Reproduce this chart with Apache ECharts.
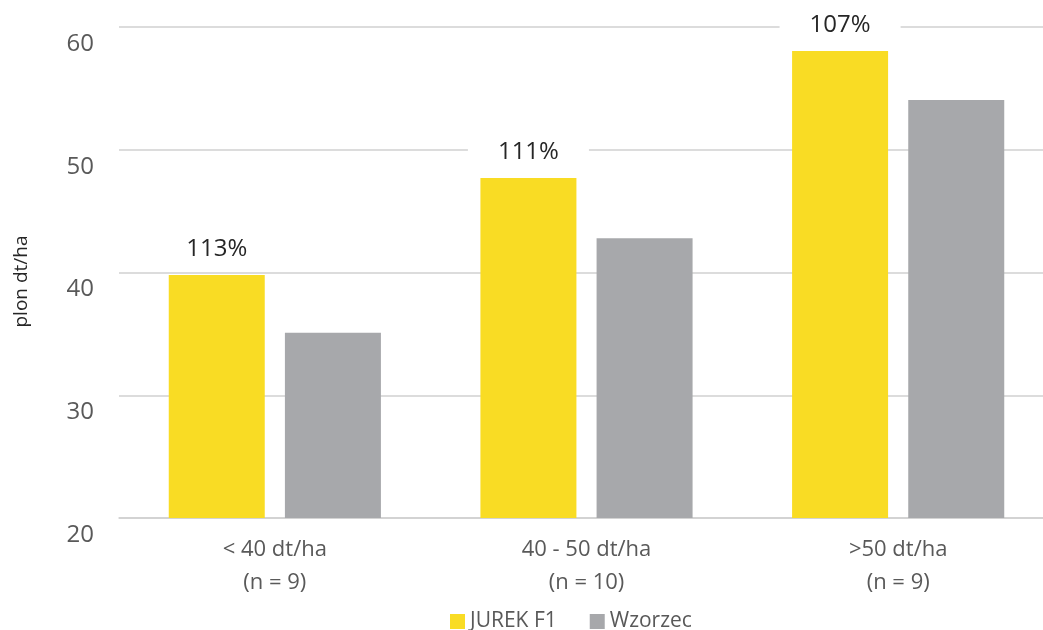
<!DOCTYPE html>
<html>
<head>
<meta charset="utf-8">
<script src="https://cdn.jsdelivr.net/npm/echarts@6/dist/echarts.min.js"></script>
<style>html,body{margin:0;padding:0;background:#fff}#c{width:1043px;height:630px}</style>
</head>
<body>
<div id="c"></div>
<script>
const categories = ['< 40 dt/ha\n(n = 9)', '40 - 50 dt/ha\n(n = 10)', '>50 dt/ha\n(n = 9)'];
const seriesNames = ['JUREK F1', 'Wzorzec'];
const jurekValues = [39.8, 47.7, 58.05];
const wzorzecValues = [35.1, 42.8, 54.05];
const jurekLabels = ['113%', '111%', '107%'];
const yTicks = [20, 30, 40, 50, 60];
const yAxisName = 'plon dt/ha';

const FONT = '"Open Sans", "Noto Sans", sans-serif';
const chart = echarts.init(document.getElementById('c'), null, {renderer: 'canvas'});
chart.setOption({
  animation: false,
  backgroundColor: '#ffffff',
  textStyle: {fontFamily: FONT},
  grid: {left: 119, width: 935, top: 27, height: 491, containLabel: false, outerBoundsMode: 'none'},
  legend: {
    data: seriesNames,
    top: 611,
    left: 450,
    padding: 0,
    itemWidth: 15,
    itemHeight: 15,
    itemGap: 33,
    icon: 'rect',
    textStyle: {fontFamily: FONT, fontSize: 21, color: '#595959'}
  },
  xAxis: {
    type: 'category',
    data: categories,
    axisLine: {lineStyle: {color: '#d0d0d0', width: 1.5}},
    axisTick: {show: false},
    axisLabel: {fontFamily: FONT, fontSize: 22, color: '#595959', lineHeight: 33, margin: 15}
  },
  yAxis: {
    type: 'value',
    min: yTicks[0],
    max: yTicks[yTicks.length - 1],
    interval: 10,
    name: yAxisName,
    nameLocation: 'middle',
    nameGap: 88,
    nameRotate: 90,
    nameTextStyle: {fontFamily: FONT, fontSize: 19, color: '#262626', padding: [0, 18, 0, 0]},
    axisLine: {show: false},
    axisTick: {show: false},
    splitLine: {lineStyle: {color: '#d0d0d0', width: 1.5}},
    axisLabel: {fontFamily: FONT, fontSize: 24, color: '#595959', margin: 25, verticalAlign: 'top', padding: [5, 0, 0, 0]}
  },
  series: [
    {
      name: seriesNames[0],
      type: 'bar',
      data: jurekValues,
      barWidth: 96,
      barGap: '21%',
      itemStyle: {color: '#F9DC24'},
      label: {
        show: true,
        position: 'top',
        distance: 12,
        formatter: p => jurekLabels[p.dataIndex],
        fontFamily: FONT,
        fontSize: 24,
        color: '#262626',
        backgroundColor: '#ffffff',
        padding: [2, 30, 2, 30]
      }
    },
    {
      name: seriesNames[1],
      type: 'bar',
      data: wzorzecValues,
      barWidth: 96,
      itemStyle: {color: '#A7A8AB'}
    }
  ]
});
</script>
</body>
</html>
